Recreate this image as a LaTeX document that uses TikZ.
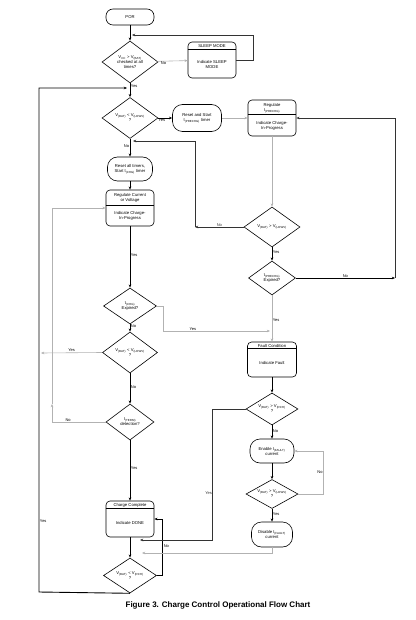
\documentclass[tikz,border=0pt]{standalone}
\usepackage{fontspec}
\setmainfont{Liberation Sans}
\usetikzlibrary{shapes.geometric,arrows.meta}
\newcommand{\ssub}[1]{\textsubscript{#1}}
\begin{document}
\begin{tikzpicture}[x=1pt, y=-1pt, >={Stealth[length=3.2pt,width=2.6pt]},
		every node/.style={font=\fontsize{4.2}{5}\selectfont, align=center, inner sep=1pt},
		term/.style={draw, line width=0.6pt, rounded corners=10pt, minimum width=46pt, minimum height=25pt},
		box/.style={draw, line width=0.6pt, rounded corners=4pt, minimum width=48pt, minimum height=36pt},
		dec/.style={diamond, draw, line width=0.6pt, inner sep=0pt, shape aspect=1.8},
		wire/.style={->, line width=0.9pt},
		thinwire/.style={->, line width=0.6pt, black!80},
		faint/.style={->, line width=0.6pt, gray!60},
		lbl/.style={font=\fontsize{4}{5}\selectfont, inner sep=0.5pt}]
	\useasboundingbox (0,0) rectangle (415,620);
	\node[term, rounded corners=7pt, minimum width=48pt, minimum height=16pt] (por) at (130,17) {POR};
	\node[dec, minimum width=56pt, minimum height=42pt] (vcc) at (130,62) {V\ssub{CC} > V\ssub{(BAT)}\\checked at all\\times?};
	\node[box] (sleep) at (212,60) {};
	\node (sleephd) at (212,46) {SLEEP MODE};
	\node (sleeptx) at (212,65) {Indicate SLEEP\\MODE};
	\node[dec, minimum width=56pt, minimum height=41pt] (d2) at (130,118) {V\ssub{(BAT)} < V\ssub{(LOWV)}\\?};
	\node[term, minimum width=49pt, minimum height=27pt] (pre) at (197,118) {Reset and Start\\t\ssub{(PRECHG)} timer};
	\node[box] (prg) at (272,118) {};
	\node (prghd) at (272,108) {Regulate\\I\ssub{(PRECHG)}};
	\node (prgtx) at (272,126) {Indicate Charge-\\In-Progress};
	\node[dec, minimum width=56pt, minimum height=40pt] (d3) at (272,227) {V\ssub{(BAT)} > V\ssub{(LOWV)}};
	\node[dec, minimum width=47pt, minimum height=34pt] (d9) at (272,278) {t\ssub{(PRECHG)}\\Expired?};
	\node[term, minimum width=45pt, minimum height=24pt] (rst) at (130,169) {Reset all timers,\\Start t\ssub{(CHG)} timer};
	\node[box] (rcv) at (130,208) {};
	\node (rcvhd) at (130,198) {Regulate Current\\or Voltage};
	\node (rcvtx) at (130,216) {Indicate Charge-\\In-Progress};
	\node[dec, minimum width=53pt, minimum height=36pt] (d4) at (130,306) {t\ssub{(CHG)}\\Expired?};
	\node[dec, minimum width=55pt, minimum height=41pt] (d5) at (130,352.5) {V\ssub{(BAT)} < V\ssub{(LOWV)}\\?};
	\node[dec, minimum width=48pt, minimum height=36pt] (d6) at (130,422) {I\ssub{(TERM)}\\detection?};
	\node[box] (cc) at (130,519) {};
	\node (cchd) at (130,505) {Charge Complete};
	\node (cctx) at (130,523) {Indicate DONE};
	\node[dec, minimum width=53pt, minimum height=35pt] (d7) at (130,575.5) {V\ssub{(BAT)} < V\ssub{(RCH)}\\?};
	\node[box, minimum width=49pt, minimum height=35pt] (flt) at (272,359.5) {};
	\node (flthd) at (272,345.5) {Fault Condition};
	\node (flttx) at (272,363) {Indicate Fault};
	\node[dec, minimum width=52pt, minimum height=32pt] (d8) at (272,409) {V\ssub{(BAT)} > V\ssub{(RCH)}\\?};
	\node[term, minimum width=44pt, minimum height=24pt] (en) at (272,451) {Enable I\ssub{(FAULT)}\\current};
	\node[dec, minimum width=52pt, minimum height=29pt] (d10) at (272,494) {V\ssub{(BAT)} > V\ssub{(LOWV)}\\?};
	\node[term, minimum width=41pt, minimum height=25pt] (dis) at (272,534.5) {Disable I\ssub{(FAULT)}\\current};
	\node[font=\fontsize{8}{9}\selectfont\bfseries] (cap) at (218,605) {Figure 3. Charge Control Operational Flow Chart};
	\draw[line width=0.6pt] ([yshift=-8pt]sleep.north west) -- ([yshift=-8pt]sleep.north east);
	\draw[line width=0.6pt] ([yshift=-15pt]prg.north west) -- ([yshift=-15pt]prg.north east);
	\draw[line width=0.6pt] ([yshift=-16pt]rcv.north west) -- ([yshift=-16pt]rcv.north east);
	\draw[line width=0.6pt] ([yshift=-8pt]cc.north west) -- ([yshift=-8pt]cc.north east);
	\draw[line width=0.6pt] ([yshift=-7pt]flt.north west) -- ([yshift=-7pt]flt.north east);
	\coordinate (j0) at (132,35);
	\coordinate (j1) at (127,88);
	\coordinate (lft) at (39,592);
	\coordinate (j2) at (195,227);
	\coordinate (j3) at (133,141);
	\coordinate (j4) at (270,331);
	\coordinate (j5) at (41,353);
	\coordinate (j6) at (52,404);
	\coordinate (j7) at (395,278);
	\coordinate (j8) at (140,540);
	\coordinate (j9) at (142,553);
	\draw[wire] (por) -- (vcc);
	\draw[faint] (vcc) -- node[lbl, pos=.2, below, black] {No} (sleep);
	\draw[thinwire] (sleep.east) -- ++(17,0) |- (j0);
	\draw[wire] (vcc) -- node[lbl, pos=.2, right] {Yes} (d2);
	\draw[wire] (d7.south) -- (lft) -- node[lbl, pos=.14, right] {Yes} (lft |- j1) -- (j1);
	\draw[wire] (d2) -- node[lbl, pos=.25, below] {Yes} (pre);
	\draw[faint] (pre) -- (prg);
	\draw[faint] (prg) -- (d3);
	\draw[thinwire] (d3.west) -- node[lbl, pos=.5, above] {No} (j2);
	\draw[thinwire] (j2) |- (j3);
	\draw[wire] (d2) -- node[lbl, pos=.4, left] {No} (rst);
	\draw[wire] (rst) -- (rcv);
	\draw[wire] (rcv) -- node[lbl, pos=.47, right] {Yes} (d4);
	\draw[faint] (d4.east) -- ++(6,0) |- node[lbl, pos=.64, above, black] {Yes} (j4);
	\draw[wire] (d4) -- node[lbl, pos=.3, right] {No} (d5);
	\draw[faint] (d5.west) -- node[lbl, pos=.5, above, black] {Yes} (j5);
	\draw[wire] (d5) -- node[lbl, pos=.45, right] {No} (d6);
	\draw[faint] (d6.west) -| node[lbl, pos=.35, above, black] {No} (j6);
	\draw[faint] (j6) |- (rcv.west);
	\draw[wire] (d6) -- node[lbl, pos=.46, right] {Yes} (cc);
	\draw[wire] (cc) -- (d7);
	\draw[wire] (d7.east) -- ++(6,0) |- node[lbl, pos=.26, right] {No} (cc.east);
	\draw[wire] (d3) -- node[lbl, pos=.35, right] {Yes} (d9);
	\draw[wire] (d9.east) -- node[lbl, pos=.5, above] {No} (j7);
	\draw[thinwire] (j7) |- (prg.east);
	\draw[faint] (d9) -- node[lbl, pos=.53, right, black] {Yes} (flt);
	\draw[wire] (flt) -- (d8);
	\draw[thinwire] (d8.west) -- ++(-33,0) |- node[lbl, pos=.32, left] {Yes} (j8);
	\draw[wire] (d8) -- node[lbl, pos=.43, right] {No} (en);
	\draw[wire] (en) -- (d10);
	\draw[faint] (d10.east) -- ++(25,0) |- node[lbl, pos=.25, left, black] {No} (en.east);
	\draw[wire] (d10) -- node[lbl, pos=.43, right] {Yes} (dis);
	\draw[faint] (dis.south) |- (j9);
\end{tikzpicture}
\end{document}
